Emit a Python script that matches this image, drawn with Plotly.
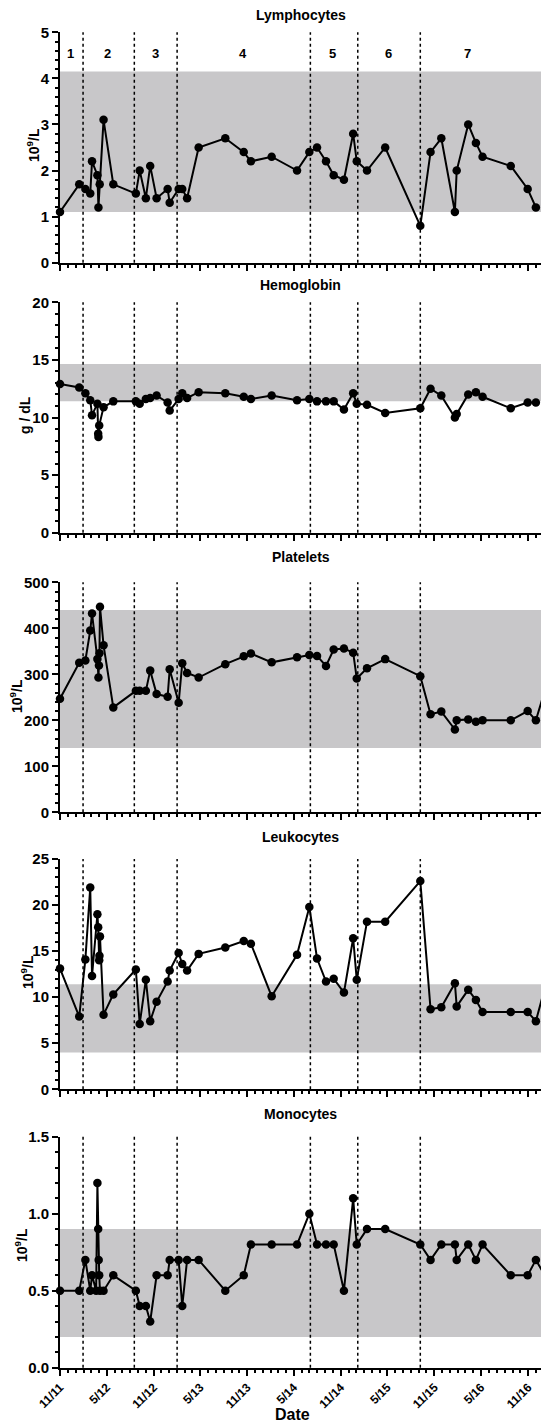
import plotly.graph_objects as go

# ---------------- data ----------------
lymph_dates = ["2011-11-01", "2012-01-15", "2012-02-08", "2012-02-27", "2012-03-05", "2012-03-26",
               "2012-03-30", "2012-04-04", "2012-04-19", "2012-05-27", "2012-08-23", "2012-09-07",
               "2012-10-01", "2012-10-18", "2012-11-12", "2012-12-25", "2013-01-02", "2013-02-06",
               "2013-02-20", "2013-03-11", "2013-04-25", "2013-08-07", "2013-10-18", "2013-11-15",
               "2014-02-04", "2014-05-14", "2014-07-01", "2014-07-31", "2014-09-04", "2014-10-04",
               "2014-11-13", "2014-12-19", "2015-01-02", "2015-02-11", "2015-04-23", "2015-09-07",
               "2015-10-17", "2015-11-28", "2016-01-20", "2016-01-27", "2016-03-12", "2016-04-11",
               "2016-05-07", "2016-08-25", "2016-10-30", "2016-12-01"]
lymph_vals = [1.1, 1.7, 1.6, 1.5, 2.2, 1.9,
              1.2, 1.7, 3.1, 1.7, 1.5, 2.0,
              1.4, 2.1, 1.4, 1.6, 1.3, 1.6,
              1.6, 1.4, 2.5, 2.7, 2.4, 2.2,
              2.3, 2.0, 2.4, 2.5, 2.2, 1.9,
              1.8, 2.8, 2.2, 2.0, 2.5, 0.8,
              2.4, 2.7, 1.1, 2.0, 3.0, 2.6,
              2.3, 2.1, 1.6, 1.2]

hemo_dates = ["2011-11-01", "2012-01-15", "2012-02-08", "2012-02-27", "2012-03-05", "2012-03-26",
              "2012-03-29", "2012-03-30", "2012-04-02", "2012-04-19", "2012-05-27", "2012-08-23",
              "2012-09-07", "2012-10-01", "2012-10-18", "2012-11-12", "2012-12-25", "2013-01-02",
              "2013-02-06", "2013-02-20", "2013-03-11", "2013-04-25", "2013-08-07", "2013-10-18",
              "2013-11-15", "2014-02-04", "2014-05-14", "2014-07-01", "2014-07-31", "2014-09-04",
              "2014-10-04", "2014-11-13", "2014-12-19", "2015-01-02", "2015-02-11", "2015-04-23",
              "2015-09-07", "2015-10-17", "2015-11-28", "2016-01-20", "2016-01-27", "2016-03-12",
              "2016-04-11", "2016-05-07", "2016-08-25", "2016-10-30", "2016-12-01"]
hemo_vals = [12.9, 12.6, 12.1, 11.5, 10.2, 11.2,
             8.6, 8.3, 9.3, 10.9, 11.4, 11.4,
             11.2, 11.6, 11.7, 11.9, 11.3, 10.6,
             11.6, 12.1, 11.7, 12.2, 12.1, 11.8,
             11.6, 11.9, 11.5, 11.6, 11.4, 11.4,
             11.4, 10.7, 12.1, 11.2, 11.1, 10.4,
             10.8, 12.5, 11.9, 10.0, 10.3, 12.0,
             12.2, 11.8, 10.8, 11.3, 11.3]

plt_dates = ["2011-11-01", "2012-01-15", "2012-02-08", "2012-02-27", "2012-03-05", "2012-03-26",
             "2012-03-30", "2012-04-01", "2012-04-03", "2012-04-05", "2012-04-19", "2012-05-27",
             "2012-08-23", "2012-09-07", "2012-10-01", "2012-10-18", "2012-11-12", "2012-12-25",
             "2013-01-02", "2013-02-06", "2013-02-20", "2013-03-11", "2013-04-25", "2013-08-07",
             "2013-10-18", "2013-11-15", "2014-02-04", "2014-05-14", "2014-07-01", "2014-07-31",
             "2014-09-04", "2014-10-04", "2014-11-13", "2014-12-19", "2015-01-02", "2015-02-11",
             "2015-04-23", "2015-09-07", "2015-10-17", "2015-11-28", "2016-01-20", "2016-01-27",
             "2016-03-12", "2016-04-11", "2016-05-07", "2016-08-25", "2016-10-30", "2016-12-01",
             "2017-01-05"]
plt_vals = [247, 325, 330, 395, 432, 333,
            293, 319, 346, 447, 363, 228,
            264, 264, 264, 308, 257, 251,
            311, 238, 324, 303, 293, 322,
            339, 345, 326, 337, 342, 340,
            318, 354, 356, 347, 291, 313,
            333, 296, 213, 219, 180, 200,
            202, 197, 200, 200, 220, 200,
            265]

leuk_dates = ["2011-11-01", "2012-01-15", "2012-02-08", "2012-02-27", "2012-03-05", "2012-03-26",
              "2012-03-29", "2012-04-02", "2012-04-03", "2012-04-05", "2012-04-19", "2012-05-27",
              "2012-08-23", "2012-09-07", "2012-10-01", "2012-10-18", "2012-11-12", "2012-12-25",
              "2013-01-02", "2013-02-06", "2013-02-20", "2013-03-11", "2013-04-25", "2013-08-07",
              "2013-10-18", "2013-11-15", "2014-02-04", "2014-05-14", "2014-07-01", "2014-07-31",
              "2014-09-04", "2014-10-04", "2014-11-13", "2014-12-19", "2015-01-02", "2015-02-11",
              "2015-04-23", "2015-09-07", "2015-10-17", "2015-11-28", "2016-01-20", "2016-01-27",
              "2016-03-12", "2016-04-11", "2016-05-07", "2016-08-25", "2016-10-30", "2016-12-01",
              "2017-01-05"]
leuk_vals = [13.1, 7.9, 14.1, 21.9, 12.3, 19.0,
             17.6, 14.0, 14.5, 16.6, 8.1, 10.3,
             13.0, 7.1, 11.9, 7.4, 9.5, 11.7,
             12.9, 14.8, 13.6, 12.9, 14.7, 15.4,
             16.1, 15.8, 10.1, 14.6, 19.8, 14.2,
             11.7, 12.0, 10.5, 16.4, 11.9, 18.2,
             18.2, 22.6, 8.7, 8.9, 11.5, 9.0,
             10.8, 9.7, 8.4, 8.4, 8.4, 7.4,
             11.0]

mono_dates = ["2011-11-01", "2012-01-15", "2012-02-08", "2012-02-27", "2012-03-05", "2012-03-21",
              "2012-03-26", "2012-03-29", "2012-03-31", "2012-04-02", "2012-04-05", "2012-04-19",
              "2012-05-27", "2012-08-23", "2012-09-07", "2012-10-01", "2012-10-18", "2012-11-12",
              "2012-12-25", "2013-01-02", "2013-02-06", "2013-02-20", "2013-03-11", "2013-04-25",
              "2013-08-07", "2013-10-18", "2013-11-15", "2014-02-04", "2014-05-14", "2014-07-01",
              "2014-07-31", "2014-09-04", "2014-10-04", "2014-11-13", "2014-12-19", "2015-01-02",
              "2015-02-11", "2015-04-23", "2015-09-07", "2015-10-17", "2015-11-28", "2016-01-20",
              "2016-01-27", "2016-03-12", "2016-04-11", "2016-05-07", "2016-08-25", "2016-10-30",
              "2016-12-01", "2017-01-05"]
mono_vals = [0.5, 0.5, 0.7, 0.5, 0.6, 0.5,
             1.2, 0.9, 0.7, 0.6, 0.5, 0.5,
             0.6, 0.5, 0.4, 0.4, 0.3, 0.6,
             0.6, 0.7, 0.7, 0.4, 0.7, 0.7,
             0.5, 0.6, 0.8, 0.8, 0.8, 1.0,
             0.8, 0.8, 0.8, 0.5, 1.1, 0.8,
             0.9, 0.9, 0.8, 0.7, 0.8, 0.8,
             0.7, 0.8, 0.7, 0.8, 0.6, 0.6,
             0.7, 0.6]

panel_titles = ["Lymphocytes", "Hemoglobin", "Platelets", "Leukocytes", "Monocytes"]
unit_labels = ["10<sup>9</sup>/L", "g / dL", "10<sup>9</sup>/L", "10<sup>9</sup>/L", "10<sup>9</sup>/L"]
ref_low = [1.1, 11.4, 140, 4.0, 0.2]
ref_high = [4.15, 14.65, 440, 11.4, 0.9]
y_max = [5, 20, 500, 25, 1.5]
y_major = [1, 5, 100, 5, 0.5]
y_minor = [0.2, 1, 20, 1, 0.1]

phase_bounds = ["2012-01-30", "2012-08-17", "2013-01-31", "2014-07-05", "2015-01-06", "2015-09-07"]
phase_labels = ["1", "2", "3", "4", "5", "6", "7"]
phase_label_dates = ["2011-12-13", "2012-05-06", "2012-11-06", "2013-10-15", "2014-10-01",
                     "2015-05-04", "2016-03-11"]

x_start, x_end = "2011-11-01", "2016-12-21"

series = [(lymph_dates, lymph_vals), (hemo_dates, hemo_vals), (plt_dates, plt_vals),
          (leuk_dates, leuk_vals), (mono_dates, mono_vals)]

# ---------------- layout geometry (pixels) ----------------
W, H = 541, 1425
L = 60
panel_top = [32.3, 302.3, 582.3, 859.0, 1136.7]
panel_bot = [262.7, 532.7, 812.3, 1089.3, 1367.7]
title_y = [15, 285, 557, 837, 1114]
ytitle_x = [33, 25, 16, 27, 21]
ytitle_y = [145, 415, 696, 972, 1245]


def py(p):
    return 1 - p / H


def px(p):
    return (p - L) / (W - L)


FONT = "Liberation Sans, Arial, Helvetica, sans-serif"

fig = go.Figure()
annotations = []
shapes = []
for i in range(5):
    n = i + 1
    sfx = "" if n == 1 else str(n)
    xs, ys = series[i]
    fig.add_trace(go.Scatter(
        x=xs, y=ys, mode="lines+markers",
        line=dict(color="black", width=2),
        marker=dict(color="black", size=8.5),
        xaxis=f"x{sfx}", yaxis=f"y{sfx}", showlegend=False, cliponaxis=False,
        hoverinfo="skip"))

    fig.layout[f"xaxis{sfx}"] = dict(
        domain=[0, 1], anchor=f"y{sfx}", type="date", range=[x_start, x_end],
        automargin=False,
        showline=True, linecolor="black", linewidth=2, showgrid=False, zeroline=False,
        ticks="outside", ticklen=6, tickwidth=2, tickcolor="black",
        tick0="2011-11-01", dtick="M6", tickformat="%-m/%y",
        showticklabels=(n == 5), tickangle=-45,
        tickfont=dict(family=FONT, size=12, color="black", weight="bold"),
        minor=dict(dtick="M1", tick0="2011-11-01", ticks="outside", ticklen=3,
                   tickwidth=1.5, tickcolor="black", showgrid=False))
    fig.layout[f"yaxis{sfx}"] = dict(
        domain=[py(panel_bot[i]), py(panel_top[i])], anchor=f"x{sfx}",
        range=[0, y_max[i]], tick0=0, dtick=y_major[i], automargin=False,
        tickformat=".1f" if n == 5 else "d",
        showline=True, linecolor="black", linewidth=2, showgrid=False, zeroline=False,
        ticks="outside", ticklen=6, tickwidth=2, tickcolor="black",
        tickfont=dict(family=FONT, size=15, color="black", weight="bold"),
        minor=dict(dtick=y_minor[i], tick0=0, ticks="outside", ticklen=3,
                   tickwidth=1.5, tickcolor="black", showgrid=False))

    # reference band
    shapes.append(dict(type="rect", xref=f"x{sfx} domain", yref=f"y{sfx}",
                       x0=0, x1=1, y0=ref_low[i], y1=ref_high[i],
                       fillcolor="#c8c7c9", line=dict(width=0), layer="below"))
    # phase boundaries
    for d in phase_bounds:
        shapes.append(dict(type="line", xref=f"x{sfx}", yref=f"y{sfx} domain",
                           x0=d, x1=d, y0=0, y1=1,
                           line=dict(color="black", width=1.5, dash="dot"), layer="below"))

    annotations.append(dict(text=f"<b>{panel_titles[i]}</b>", xref="paper", yref="paper",
                            x=0.5, y=py(title_y[i]), xanchor="center", yanchor="middle",
                            showarrow=False, font=dict(family=FONT, size=14, color="black")))
    annotations.append(dict(text=f"<b>{unit_labels[i]}</b>", xref="paper", yref="paper",
                            x=px(ytitle_x[i]), y=py(ytitle_y[i]), xanchor="center",
                            yanchor="middle", textangle=-90, showarrow=False,
                            font=dict(family=FONT, size=14, color="black")))

for lab, d in zip(phase_labels, phase_label_dates):
    annotations.append(dict(text=f"<b>{lab}</b>", xref="x", yref="y", x=d, y=4.55,
                            showarrow=False, font=dict(family=FONT, size=13, color="black")))

annotations.append(dict(text="<b>Date</b>", xref="paper", yref="paper",
                        x=px(292), y=py(1414), xanchor="center", yanchor="middle",
                        showarrow=False, font=dict(family=FONT, size=16, color="black")))

fig.update_layout(template="none", width=W, height=H,
                  margin=dict(l=L, r=0, t=0, b=0, pad=0, autoexpand=False),
                  font=dict(family=FONT, color="black"),
                  paper_bgcolor="white", plot_bgcolor="white", hovermode=False,
                  shapes=shapes, annotations=annotations, showlegend=False)

fig.write_html(
    "out.html",
    config={"displayModeBar": False, "responsive": False},
    post_script=(
        "var h=document.documentElement.style;h.margin='0';h.padding='0';"
        "h.overflow='hidden';h.height='1425px';"
        "var b=document.body.style;b.margin='0';b.padding='0';"
        "b.overflow='hidden';b.height='1425px';"
    ),
)
